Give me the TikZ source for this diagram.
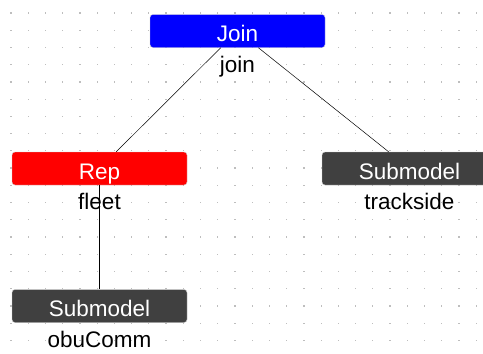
\documentclass[tikz,border=0pt]{standalone}
\usepackage{fontspec}
\setmainfont{Liberation Sans}
\usetikzlibrary{positioning}
\definecolor{subgray}{RGB}{64,64,64}
\definecolor{dotgray}{RGB}{190,190,190}
\begin{document}
\begin{tikzpicture}[x=1pt, y=-1pt, every node/.style={font=\fontsize{22.5}{24}\selectfont}]

        % Block definitions
        \tikzstyle{blockbox} = [rectangle, rounded corners=3pt, minimum height=33pt, minimum width=175pt, inner sep=0pt, text height=24pt, text depth=3pt, text=white, draw=white!80!black, line width=0.4pt]
        \tikzstyle{namelabel} = [inner sep=0pt, text height=17pt, text depth=5pt, text=black]

        % Canvas and dot grid
        \useasboundingbox (0,0) rectangle (483,354);
        \fill[white] (0,0) rectangle (483,354);
        \foreach \i in {0,...,27} {
            \foreach \j in {0,...,19} {
                \fill[dotgray] ({11+17.23*\i-0.6},{13+17.23*\j-0.6}) rectangle ++(1.2,1.2);
            }
        }

        % Blocks
        \node[blockbox, fill=blue] (join) at (237.5,31) {Join};
        \node[blockbox, fill=red] (fleet) at (99.5,168.5) {Rep};
        \node[blockbox, fill=subgray] (trackside) at (409.5,168.5) {Submodel};
        \node[blockbox, fill=subgray] (obucomm) at (99.5,306) {Submodel};

        % Links
        \draw[black, line width=0.5pt] (join) -- (fleet);
        \draw[black, line width=0.5pt] (join) -- (trackside);
        \draw[black, line width=0.5pt] (fleet.south) -- (obucomm.north);

        % Names
        \node[namelabel, below=7.5pt of join] (joinname) {join};
        \node[namelabel, below=7.5pt of fleet] (fleetname) {fleet};
        \node[namelabel, below=7.5pt of trackside] (tracksidename) {trackside};
        \node[namelabel, below=7.5pt of obucomm] (obucommname) {obuComm};

    \end{tikzpicture}
\end{document}
